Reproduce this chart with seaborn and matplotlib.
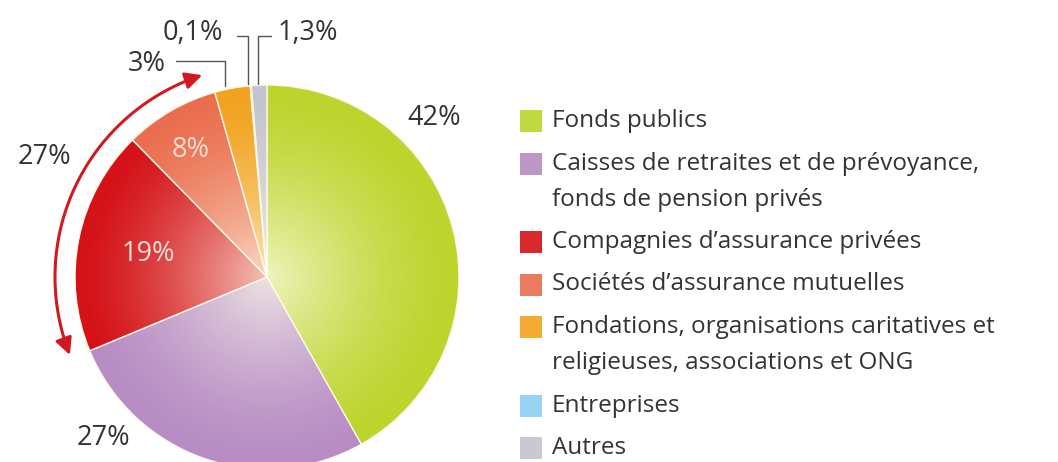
import numpy as np
import matplotlib
matplotlib.use("Agg")
import matplotlib.pyplot as plt
import seaborn as sns
from matplotlib.patches import Circle, Rectangle, FancyArrowPatch
from matplotlib.path import Path

# --- data -------------------------------------------------------------------
categories = ["Fonds publics",
              "Caisses de retraites et de prévoyance,\nfonds de pension privés",
              "Compagnies d\u2019assurance privées",
              "Sociétés d\u2019assurance mutuelles",
              "Fondations, organisations caritatives et\nreligieuses, associations et ONG",
              "Entreprises",
              "Autres"]
shares = [42, 27, 19, 8, 3, 0.1, 1.3]
share_labels = ["42%", "27%", "19%", "8%", "3%", "0,1%", "1,3%"]
bracket_label = "27%"   # red + salmon together
colors = ["#bcd42c", "#b78cc4", "#d41218", "#ea6e4e", "#f2a21e", "#8ecff2", "#c4c4cc"]

sns.set_theme(style="white")
plt.rcParams["font.family"] = ["Open Sans", "DejaVu Sans"]

W, H = 1058, 462
fig = plt.figure(figsize=(W / 100, H / 100), dpi=100)
ax = fig.add_axes([0, 0, 1, 1])

cx, cy, R = 267, H - 277, 192
wedges, _ = ax.pie(shares, colors=colors, startangle=90, counterclock=False,
                   center=(cx, cy), radius=R,
                   wedgeprops=dict(edgecolor="#fff6e8", linewidth=1))
ax.set_aspect("equal")
ax.axis("off")

# light radial sheen in the middle of the pie (slightly warm white)
n = 400
xs = np.linspace(-1, 1, n)
xx, yy = np.meshgrid(xs, xs)
rr = np.clip(np.sqrt(xx ** 2 + yy ** 2), 0, 1)
sheen = np.ones((n, n, 4))
sheen[..., 2] = 0.93
sheen[..., 3] = 0.75 * (1 - rr) ** 1.5
img = ax.imshow(sheen, extent=(cx - R, cx + R, cy - R, cy + R), origin="lower",
                interpolation="bilinear", zorder=3)
img.set_clip_path(Circle((cx, cy), R, transform=ax.transData))
ax.set_xlim(0, W)
ax.set_ylim(0, H)

txt = "#333333"
fs = 19.5

def yy_(y):
    return H - y

# percentage labels
ax.text(434, yy_(118), share_labels[0], fontsize=fs, color=txt, ha="center", va="center")
ax.text(103, yy_(438), share_labels[1], fontsize=fs, color=txt, ha="center", va="center")
ax.text(148, yy_(254), share_labels[2], fontsize=fs, color="#f8e0d6", ha="center",
        va="center", zorder=5)
ax.text(191, yy_(150), share_labels[3], fontsize=fs, color="#f8e0d6", ha="center",
        va="center", zorder=5)
ax.text(147, yy_(64), share_labels[4], fontsize=fs, color=txt, ha="center", va="center")
ax.text(193, yy_(33), share_labels[5], fontsize=fs, color=txt, ha="center", va="center")
ax.text(308, yy_(33), share_labels[6], fontsize=fs, color=txt, ha="center", va="center")
ax.text(44, yy_(157), bracket_label, fontsize=fs, color=txt, ha="center", va="center")

# leader lines for the small slices
lc = "#555555"
ax.plot([176, 225, 225], [yy_(61), yy_(61), yy_(86)], color=lc, lw=1, zorder=6)
ax.plot([237, 248, 248], [yy_(36), yy_(36), yy_(84)], color=lc, lw=1, zorder=6)
ax.plot([271, 258, 258], [yy_(36), yy_(36), yy_(84)], color=lc, lw=1, zorder=6)

# curved double arrow spanning the two insurance slices
total = sum(shares)
start = 90 - 360 * sum(shares[:2]) / total
end = 90 - 360 * sum(shares[:4]) / total
ang = np.radians(np.linspace(start - 1, end + 2, 80))
ra = R + 20
verts = np.column_stack([cx + ra * np.cos(ang), cy + ra * np.sin(ang)])
arrow = FancyArrowPatch(path=Path(verts), arrowstyle="<|-|>,head_length=10,head_width=5",
                        color="#cf1a20", lw=2.2, zorder=6)
ax.add_patch(arrow)

# legend
lx, sq = 520, 22
y = 121
for name, col in zip(categories, colors):
    ax.add_patch(Rectangle((lx, yy_(y) - sq / 2), sq, sq, facecolor=col,
                           edgecolor="none", alpha=0.9))
    lines = name.split("\n")
    for k, line in enumerate(lines):
        ax.text(552, yy_(y + 36 * k), line, fontsize=17.5, color=txt,
                ha="left", va="center")
    y += 42.5 + 36 * (len(lines) - 1)

fig.savefig("out.png", dpi=100, facecolor="white")
